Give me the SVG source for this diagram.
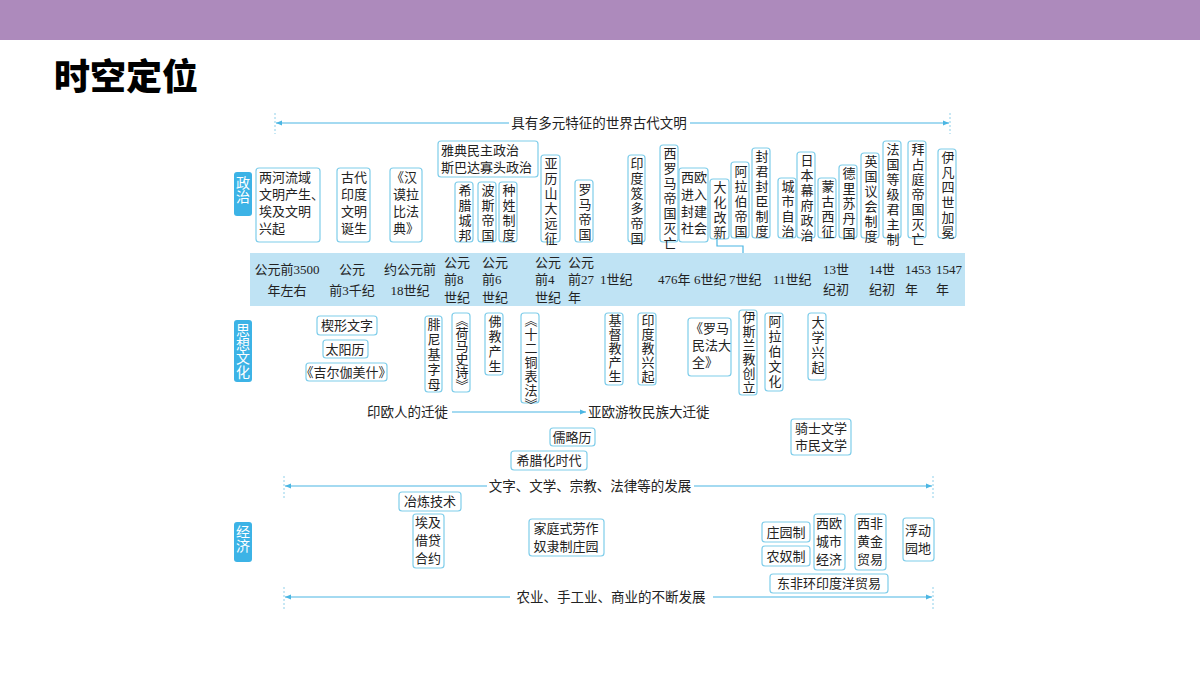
<svg xmlns="http://www.w3.org/2000/svg" width="1200" height="675" viewBox="0 0 1200 675">
<style>
text{font-family:"Liberation Serif","Noto Sans CJK SC",serif;fill:#222;font-size:13px}
.b{fill:#fff;stroke:#7fcdea;stroke-width:1.2}
.v{writing-mode:vertical-rl;letter-spacing:2px}
.c{text-anchor:middle}
.lab{fill:#3cb3e6}
.lt{fill:#fff;font-family:"Noto Sans CJK SC",sans-serif;font-size:14px;writing-mode:vertical-rl}
.ar{stroke:#4bb6e3;stroke-width:1.2;fill:none}
.dash{stroke:#8fd0ea;stroke-width:1;stroke-dasharray:2 2}
.t{font-size:13.5px}
</style>
<defs><marker id="ah" markerWidth="6" markerHeight="6" refX="5" refY="3" orient="auto"><path d="M0,1 L5,3 L0,5z" fill="#4bb6e3"/></marker></defs>
<rect x="0" y="0" width="1200" height="40" fill="#ad8abc"/>
<text x="54" y="90" style="font-family:'Noto Sans CJK SC',sans-serif;font-size:36px;font-weight:900;fill:#000">时空定位</text>
<rect x="250" y="253" width="715" height="53" fill="#bfe3f4"/>

<g id="labels">
<rect class="lab" x="234" y="172" width="18" height="44" rx="3"/><text class="lt" x="243" y="176">政治</text>
<rect class="lab" x="234" y="320" width="18" height="62" rx="3"/><text class="lt" x="243" y="323">思想文化</text>
<rect class="lab" x="234" y="522" width="18" height="40" rx="3"/><text class="lt" x="243" y="525">经济</text>
</g>

<g id="connectors">
<line class="dash" x1="275" y1="113" x2="275" y2="134"/><line class="dash" x1="950" y1="113" x2="950" y2="134"/>
<line class="ar" x1="509" y1="123" x2="276" y2="123" marker-end="url(#ah)"/>
<line class="ar" x1="690" y1="123" x2="949" y2="123" marker-end="url(#ah)"/>
<text x="599" y="128" class="c t">具有多元特征的世界古代文明</text>
<polyline class="ar" points="717,239 717,246 743,246 743,253" stroke="#9ad3ea"/>
<line class="ar" x1="452" y1="412" x2="586" y2="412" marker-end="url(#ah)"/>
<line class="dash" x1="284" y1="476" x2="284" y2="498"/><line class="dash" x1="933" y1="476" x2="933" y2="498"/>
<line class="ar" x1="487" y1="486" x2="285" y2="486" marker-end="url(#ah)"/>
<line class="ar" x1="694" y1="486" x2="932" y2="486" marker-end="url(#ah)"/>
<text x="590" y="491" class="c t">文字、文学、宗教、法律等的发展</text>
<line class="dash" x1="284" y1="587" x2="284" y2="609"/><line class="dash" x1="933" y1="587" x2="933" y2="609"/>
<line class="ar" x1="510" y1="597" x2="285" y2="597" marker-end="url(#ah)"/>
<line class="ar" x1="713" y1="597" x2="932" y2="597" marker-end="url(#ah)"/>
<text x="611" y="602" class="c t">农业、手工业、商业的不断发展</text>
</g>

<g id="timeline" class="t">
<text x="287" y="274" class="c">公元前3500</text><text x="287" y="295" class="c">年左右</text>
<text x="352" y="274" class="c">公元</text><text x="352" y="295" class="c">前3千纪</text>
<text x="410" y="274" class="c">约公元前</text><text x="410" y="295" class="c">18世纪</text>
<text x="444" y="267">公元</text><text x="444" y="284">前8</text><text x="444" y="302">世纪</text>
<text x="482" y="267">公元</text><text x="482" y="284">前6</text><text x="482" y="302">世纪</text>
<text x="535" y="267">公元</text><text x="535" y="284">前4</text><text x="535" y="302">世纪</text>
<text x="568" y="267">公元</text><text x="568" y="284">前27</text><text x="568" y="302">年</text>
<text x="600" y="284">1世纪</text>
<text x="658" y="284">476年</text><text x="694" y="284">6世纪</text><text x="729" y="284">7世纪</text><text x="773" y="284">11世纪</text>
<text x="823" y="274">13世</text><text x="823" y="294">纪初</text>
<text x="869" y="274">14世</text><text x="869" y="294">纪初</text>
<text x="905" y="274">1453</text><text x="905" y="294">年</text>
<text x="936" y="274">1547</text><text x="936" y="294">年</text>
</g>

<g id="n1"><rect class="b" x="256" y="168" width="64" height="74" rx="3"/><text x="259" y="182">两河流域</text><text x="259" y="199">文明产生、</text><text x="259" y="216">埃及文明</text><text x="259" y="233">兴起</text></g>
<g id="n2"><rect class="b" x="337" y="168" width="33" height="74" rx="3"/><text x="341" y="182">古代</text><text x="341" y="199">印度</text><text x="341" y="216">文明</text><text x="341" y="233">诞生</text></g>
<g id="n3"><rect class="b" x="390" y="168" width="32" height="74" rx="3"/><text x="391" y="182">《汉</text><text x="393" y="199">谟拉</text><text x="393" y="216">比法</text><text x="393" y="233">典》</text></g>
<g id="n4"><rect class="b" x="438" y="141" width="100" height="36" rx="3"/><text x="441" y="155">雅典民主政治</text><text x="441" y="172">斯巴达寡头政治</text></g>
<g id="n5"><rect class="b" x="455" y="182" width="18" height="60" rx="3"/><text class="v" x="464" y="184">希腊城邦</text></g>
<g id="n6"><rect class="b" x="478" y="182" width="18" height="60" rx="3"/><text class="v" x="487" y="184">波斯帝国</text></g>
<g id="n7"><rect class="b" x="499" y="182" width="18" height="60" rx="3"/><text class="v" x="508" y="184">种姓制度</text></g>
<g id="n8"><rect class="b" x="541" y="155" width="19" height="87" rx="3"/><text class="v" x="550" y="157">亚历山大远征</text></g>
<g id="n9"><rect class="b" x="575" y="180" width="18" height="62" rx="3"/><text class="v" x="584" y="183">罗马帝国</text></g>
<g id="n10"><rect class="b" x="628" y="155" width="17" height="87" rx="3"/><text class="v" x="636" y="157">印度笈多帝国</text></g>
<g id="n11"><rect class="b" x="660" y="145" width="18" height="97" rx="3"/><text class="v" x="669" y="147">西罗马帝国灭亡</text></g>
<g id="n12"><rect class="b" x="679" y="168" width="29" height="74" rx="3"/><text x="681" y="182">西欧</text><text x="681" y="199">进入</text><text x="681" y="216">封建</text><text x="681" y="233">社会</text></g>
<g id="n13"><rect class="b" x="710" y="179" width="19" height="60" rx="3"/><text class="v" x="719" y="181">大化改新</text></g>
<g id="n14"><rect class="b" x="731" y="162" width="18" height="76" rx="3"/><text class="v" x="740" y="165">阿拉伯帝国</text></g>
<g id="n15"><rect class="b" x="752" y="148" width="18" height="90" rx="3"/><text class="v" x="761" y="150">封君封臣制度</text></g>
<g id="n16"><rect class="b" x="778" y="178" width="18" height="60" rx="3"/><text class="v" x="787" y="180">城市自治</text></g>
<g id="n17"><rect class="b" x="797" y="152" width="18" height="86" rx="3"/><text class="v" x="806" y="154">日本幕府政治</text></g>
<g id="n18"><rect class="b" x="818" y="178" width="18" height="60" rx="3"/><text class="v" x="827" y="180">蒙古西征</text></g>
<g id="n19"><rect class="b" x="839" y="165" width="18" height="73" rx="3"/><text class="v" x="848" y="167">德里苏丹国</text></g>
<g id="n20"><rect class="b" x="861" y="153" width="18" height="85" rx="3"/><text class="v" x="870" y="155">英国议会制度</text></g>
<g id="n21"><rect class="b" x="883" y="141" width="18" height="97" rx="3"/><text class="v" x="892" y="143">法国等级君主制</text></g>
<g id="n22"><rect class="b" x="908" y="141" width="18" height="97" rx="3"/><text class="v" x="917" y="143">拜占庭帝国灭亡</text></g>
<g id="n23"><rect class="b" x="938" y="149" width="18" height="89" rx="3"/><text class="v" x="947" y="151">伊凡四世加冕</text></g>

<g id="c1"><rect class="b" x="317" y="316" width="60" height="19" rx="3"/><text x="347" y="330" class="c">楔形文字</text></g>
<g id="c2"><rect class="b" x="323" y="340" width="45" height="18" rx="3"/><text x="345" y="354" class="c">太阳历</text></g>
<g id="c3"><rect class="b" x="306" y="363" width="81" height="18" rx="3"/><text x="346" y="377" class="c">《吉尔伽美什》</text></g>
<g id="c4"><rect class="b" x="425" y="316" width="17" height="76" rx="3"/><text class="v" x="433" y="318">腓尼基字母</text></g>
<g id="c5"><rect class="b" x="452" y="313" width="18" height="79" rx="3"/><text class="v" x="461" y="314" style="letter-spacing:0">《荷马史诗》</text></g>
<g id="c6"><rect class="b" x="485" y="313" width="18" height="62" rx="3"/><text class="v" x="494" y="315">佛教产生</text></g>
<g id="c7"><rect class="b" x="521" y="313" width="18" height="90" rx="3"/><text class="v" x="530" y="314" style="letter-spacing:1px">《十二铜表法》</text></g>
<g id="c8"><rect class="b" x="605" y="313" width="18" height="72" rx="3"/><text class="v" x="614" y="314" style="letter-spacing:1px">基督教产生</text></g>
<g id="c9"><rect class="b" x="638" y="313" width="18" height="72" rx="3"/><text class="v" x="647" y="314" style="letter-spacing:1px">印度教兴起</text></g>
<g id="c10"><rect class="b" x="688" y="318" width="43" height="58" rx="3"/><text x="690" y="333">《罗马</text><text x="692" y="350">民法大</text><text x="692" y="367">全》</text></g>
<g id="c11"><rect class="b" x="739" y="310" width="18" height="85" rx="3"/><text class="v" x="748" y="311" style="letter-spacing:1px">伊斯兰教创立</text></g>
<g id="c12"><rect class="b" x="765" y="313" width="18" height="78" rx="3"/><text class="v" x="774" y="315">阿拉伯文化</text></g>
<g id="c13"><rect class="b" x="808" y="313" width="18" height="67" rx="3"/><text class="v" x="817" y="316">大学兴起</text></g>
<text x="448" y="417" text-anchor="end" class="t">印欧人的迁徙</text>
<text x="588" y="417" class="t">亚欧游牧民族大迁徙</text>
<g id="c14"><rect class="b" x="550" y="428" width="45" height="18" rx="3"/><text x="572" y="442" class="c">儒略历</text></g>
<g id="c15"><rect class="b" x="511" y="451" width="76" height="19" rx="3"/><text x="549" y="465" class="c">希腊化时代</text></g>
<g id="c16"><rect class="b" x="791" y="419" width="60" height="36" rx="3"/><text x="821" y="433" class="c">骑士文学</text><text x="821" y="450" class="c">市民文学</text></g>

<g id="e1"><rect class="b" x="399" y="492" width="62" height="19" rx="3"/><text x="430" y="506" class="c">冶炼技术</text></g>
<g id="e2"><rect class="b" x="413" y="514" width="31" height="54" rx="3"/><text x="428" y="527" class="c">埃及</text><text x="428" y="545" class="c">借贷</text><text x="428" y="563" class="c">合约</text></g>
<g id="e3"><rect class="b" x="529" y="519" width="75" height="37" rx="3"/><text x="566" y="533" class="c">家庭式劳作</text><text x="566" y="551" class="c">奴隶制庄园</text></g>
<g id="e4"><rect class="b" x="762" y="522" width="48" height="20" rx="3"/><text x="786" y="537" class="c">庄园制</text></g>
<g id="e5"><rect class="b" x="762" y="546" width="48" height="20" rx="3"/><text x="786" y="561" class="c">农奴制</text></g>
<g id="e6"><rect class="b" x="814" y="514" width="31" height="56" rx="3"/><text x="829" y="528" class="c">西欧</text><text x="829" y="546" class="c">城市</text><text x="829" y="564" class="c">经济</text></g>
<g id="e7"><rect class="b" x="855" y="514" width="31" height="56" rx="3"/><text x="870" y="528" class="c">西非</text><text x="870" y="546" class="c">黄金</text><text x="870" y="564" class="c">贸易</text></g>
<g id="e8"><rect class="b" x="903" y="518" width="31" height="43" rx="3"/><text x="918" y="535" class="c">浮动</text><text x="918" y="553" class="c">园地</text></g>
<g id="e9"><rect class="b" x="770" y="574" width="118" height="19" rx="3"/><text x="829" y="588" class="c">东非环印度洋贸易</text></g>
</svg>
